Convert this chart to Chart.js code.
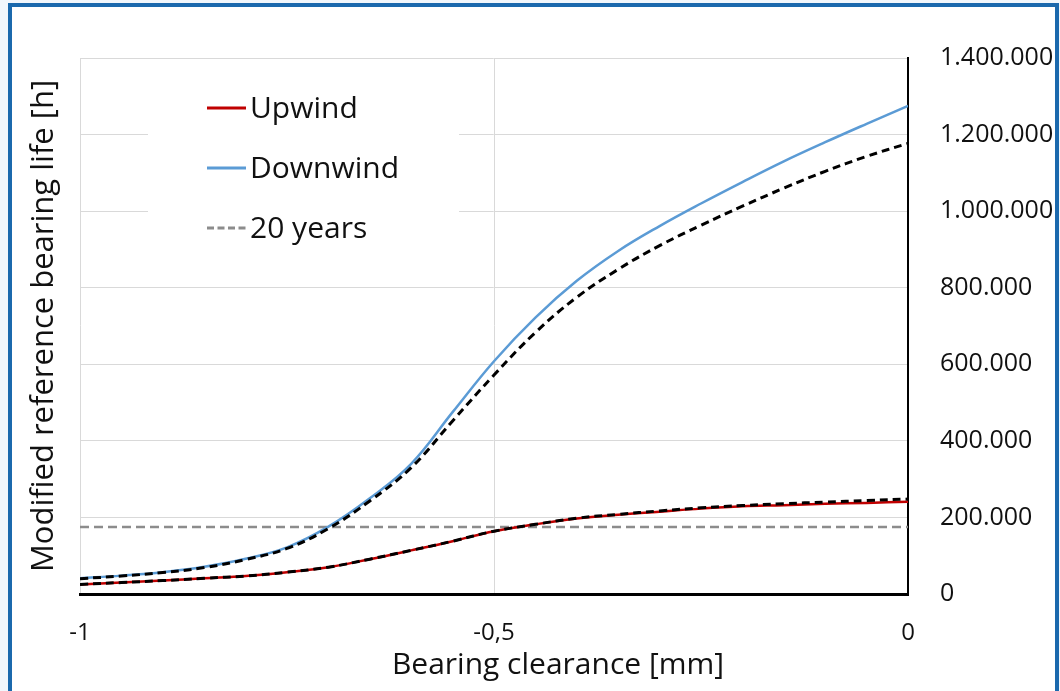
<!DOCTYPE html>
<html>
<head>
<meta charset="utf-8">
<script src="https://cdn.jsdelivr.net/npm/chart.js@4.4.1/dist/chart.umd.min.js"></script>
<style>
  html, body { margin: 0; padding: 0; background: #f2f7fc; }
  #frame {
    position: absolute; left: 8px; top: 3px;
    width: 1043px; height: 740px;
    border: 4px solid #1b69ad; background: #ffffff;
  }
  #c { position: absolute; left: 0; top: 0; }
</style>
</head>
<body>
<div id="frame"></div>
<canvas id="c" width="1060" height="691"></canvas>
<script>
// Bearing clearance [mm]
const clearance = [-1, -0.95, -0.9, -0.85, -0.8, -0.75, -0.7, -0.65, -0.6, -0.55, -0.5,
                   -0.45, -0.4, -0.35, -0.3, -0.25, -0.2, -0.15, -0.1, -0.05, 0];

// Modified reference bearing life [h]
const upwind = [25000, 30000, 35000, 41000, 47000, 57000, 70000, 91000, 114000, 138000, 164000,
                182000, 197000, 207000, 215000, 223000, 229000, 232000, 235500, 238000, 241000];
const upwindFit = [25000, 30000, 35000, 41000, 47000, 57000, 70000, 91000, 114000, 138000, 164000,
                   182000, 198000, 208000, 217000, 225000, 231000, 236000, 240000, 244000, 248000];
const downwind = [41000, 48000, 57000, 71000, 92000, 122000, 176000, 250000, 340000, 475000, 608000,
                  722000, 818000, 896000, 961000, 1020000, 1076000, 1130000, 1180000, 1228000, 1275000];
const downwindFit = [40000, 47000, 56000, 69000, 90000, 119000, 171000, 243000, 330000, 452000, 572000,
                     683000, 775000, 848000, 910000, 963000, 1013000, 1060000, 1104000, 1143000, 1177000];

// 20 years of operation in hours
const twentyYears = 175200;
const limitX = [-1, 0];

const xTicks = [-1, -0.5, 0];
const yTicks = [0, 200000, 400000, 600000, 800000, 1000000, 1200000, 1400000];

const legendItems = [
  { label: 'Upwind', color: '#c00000', dash: [] },
  { label: 'Downwind', color: '#5b9bd5', dash: [] },
  { label: '20 years', color: '#8c8c8c', dash: [7, 3.5] }
];

const pts = (xs, ys) => xs.map((x, i) => ({ x: x, y: ys[i] }));
const FONT = "'Open Sans', 'DejaVu Sans', sans-serif";
const TEXT = '#111111';

const fmtThousands = v => String(Math.round(v)).replace(/\B(?=(\d{3})+(?!\d))/g, '.');

// In-plot legend on a white panel
const insideLegend = {
  id: 'insideLegend',
  afterDatasetsDraw(chart) {
    const ctx = chart.ctx;
    ctx.save();
    ctx.fillStyle = '#ffffff';
    ctx.fillRect(148, 72, 311, 174);
    legendItems.forEach((it, i) => {
      const y = 108 + i * 60;
      ctx.beginPath();
      ctx.setLineDash(it.dash);
      ctx.strokeStyle = it.color;
      ctx.lineWidth = 3;
      ctx.moveTo(207, y);
      ctx.lineTo(246, y);
      ctx.stroke();
      ctx.setLineDash([]);
      ctx.fillStyle = TEXT;
      ctx.font = "30px " + FONT;
      ctx.textBaseline = 'middle';
      ctx.textAlign = 'left';
      ctx.fillText(it.label, 250, y + 1);
    });
    ctx.restore();
  }
};

// Horizontal axis title
const xTitle = {
  id: 'xTitle',
  afterDraw(chart) {
    const ctx = chart.ctx;
    ctx.save();
    ctx.fillStyle = TEXT;
    ctx.font = "30px " + FONT;
    ctx.textAlign = 'center';
    ctx.textBaseline = 'middle';
    ctx.fillText('Bearing clearance [mm]', 558, 665);
    ctx.restore();
  }
};

const curve = { pointRadius: 0, tension: 0.4, cubicInterpolationMode: 'default' };

new Chart(document.getElementById('c'), {
  type: 'line',
  data: {
    datasets: [
      { label: '20 years', data: pts(limitX, [twentyYears, twentyYears]), borderColor: '#8c8c8c',
        borderWidth: 2.5, borderDash: [9, 5], pointRadius: 0, order: 5 },
      Object.assign({ label: 'Downwind', data: pts(clearance, downwind), borderColor: '#5b9bd5',
        borderWidth: 2.5, order: 4 }, curve),
      Object.assign({ label: 'Upwind', data: pts(clearance, upwind), borderColor: '#c00000',
        borderWidth: 2.5, order: 3 }, curve),
      Object.assign({ label: 'Downwind fit', data: pts(clearance, downwindFit), borderColor: '#000000',
        borderWidth: 3, borderDash: [8, 5], order: 2 }, curve),
      Object.assign({ label: 'Upwind fit', data: pts(clearance, upwindFit), borderColor: '#000000',
        borderWidth: 3, borderDash: [8, 5], order: 1 }, curve)
    ]
  },
  options: {
    responsive: false,
    animation: false,
    devicePixelRatio: 1,
    layout: { padding: { top: 58, left: 0, right: 0, bottom: 0 } },
    plugins: { legend: { display: false }, tooltip: { enabled: false } },
    scales: {
      x: {
        type: 'linear', position: 'bottom', min: -1, max: 0,
        afterBuildTicks: s => { s.ticks = xTicks.map(v => ({ value: v })); },
        ticks: {
          padding: 25, color: TEXT, font: { family: FONT, size: 24 },
          callback: v => String(v).replace('.', ','), maxRotation: 0
        },
        grid: { color: '#d9d9d9', lineWidth: 1, drawTicks: false },
        border: { display: true, color: '#000000', width: 3 },
        afterFit: s => { s.height = 97; }
      },
      y: {
        type: 'linear', position: 'right', min: 0, max: 1400000,
        afterBuildTicks: s => { s.ticks = yTicks.map(v => ({ value: v })); },
        ticks: {
          padding: 32, color: TEXT, font: { family: FONT, size: 25 },
          callback: v => fmtThousands(v)
        },
        grid: { color: '#d9d9d9', lineWidth: 1, drawTicks: false },
        border: { display: true, color: '#000000', width: 2 },
        afterFit: s => { s.width = 152; }
      },
      yTitle: {
        type: 'linear', position: 'left', min: 0, max: 1400000,
        ticks: { display: false },
        grid: { display: false, drawTicks: false },
        border: { display: false },
        title: {
          display: true, text: 'Modified reference bearing life [h]',
          color: TEXT, font: { family: FONT, size: 31 }, padding: { top: 26, bottom: 0 }
        },
        afterFit: s => { s.width = 80; }
      }
    }
  },
  plugins: [insideLegend, xTitle]
});
</script>
</body>
</html>
